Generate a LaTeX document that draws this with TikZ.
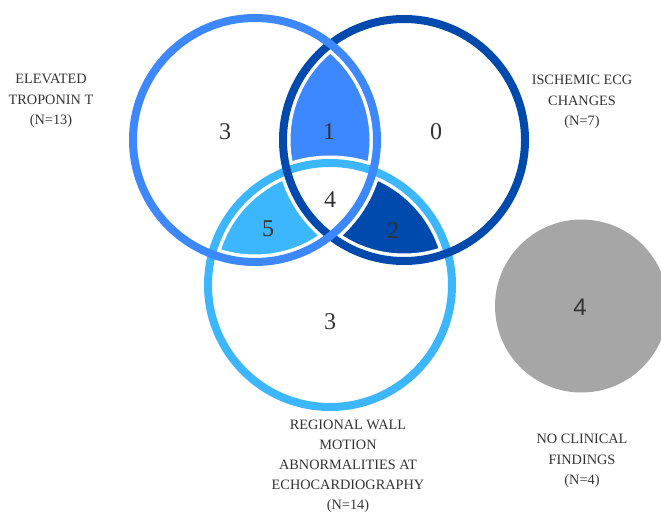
\documentclass[tikz,border=0pt]{standalone}
\usepackage{fontspec}
\setmainfont{Liberation Serif}
\newfontfamily\grsans{Liberation Sans}
\definecolor{colA}{HTML}{3D88FF}
\definecolor{colB}{HTML}{004AAD}
\definecolor{colC}{HTML}{3BB6FF}
\definecolor{colG}{HTML}{A6A6A6}
\definecolor{txt}{HTML}{333333}
\begin{document}
\begin{tikzpicture}[x=1pt,y=-1pt,
  num/.style={text=txt,font=\fontsize{24}{24}\selectfont,inner sep=0pt},
  lab/.style={text=txt,font=\fontsize{14.3}{20.5}\selectfont,align=center,inner sep=0pt},
  ring/.style={line width=8pt},
  halo/.style={draw=white,line width=15pt}]
\useasboundingbox (0,0) rectangle (661,514);
\coordinate (cA) at (255,140);
\coordinate (cB) at (404,140);
\coordinate (cC) at (330,285);
\coordinate (cG) at (581.5,306);
% pairwise fills
\begin{scope}\clip (cA) circle[radius=122]; \fill[colA] (cB) circle[radius=121];\end{scope}
\begin{scope}\clip (cA) circle[radius=122]; \fill[colC] (cC) circle[radius=122];\end{scope}
\begin{scope}\clip (cB) circle[radius=121]; \fill[colB] (cC) circle[radius=122];\end{scope}
\begin{scope}\clip (cA) circle[radius=122]; \clip (cB) circle[radius=121]; \fill[white] (cC) circle[radius=122];\end{scope}
% halos
\draw[halo] (cA) circle[radius=122];
\draw[halo] (cB) circle[radius=121];
\draw[halo] (cC) circle[radius=122];
% rings
\draw[ring,colC] (cC) circle[radius=122];
\draw[ring,colB] (cB) circle[radius=121];
\draw[ring,colA] (cA) circle[radius=122];
% grey disk
\begin{scope}\clip (0,0) rectangle (661,514); \fill[colG] (cG) circle[radius=86.5];\end{scope}
% numbers
\node[num] (nA) at (225,132) {3};
\node[num] (nAB) at (329,132) {1};
\node[num] (nB) at (436,132) {0};
\node[num] (nABC) at (330,200) {4};
\node[num] (nAC) at (268,229) {5};
\node[num] (nBC) at (393,231) {2};
\node[num] (nC) at (330,322) {3};
\node[num,font=\grsans\fontsize{24}{24}\selectfont] (nG) at (580,307) {4};
% labels
\node[lab] (lA) at (51,101) {ELEVATED\\TROPONIN T\\(N=13)};
\node[lab] (lB) at (582,102) {ISCHEMIC ECG\\CHANGES\\(N=7)};
\node[lab,font=\fontsize{14.3}{20}\selectfont] (lC) at (348,466) {REGIONAL WALL\\MOTION\\ABNORMALITIES AT\\ECHOCARDIOGRAPHY\\(N=14)};
\node[lab] (lG) at (582,461) {NO CLINICAL\\FINDINGS\\(N=4)};
\end{tikzpicture}
\end{document}
